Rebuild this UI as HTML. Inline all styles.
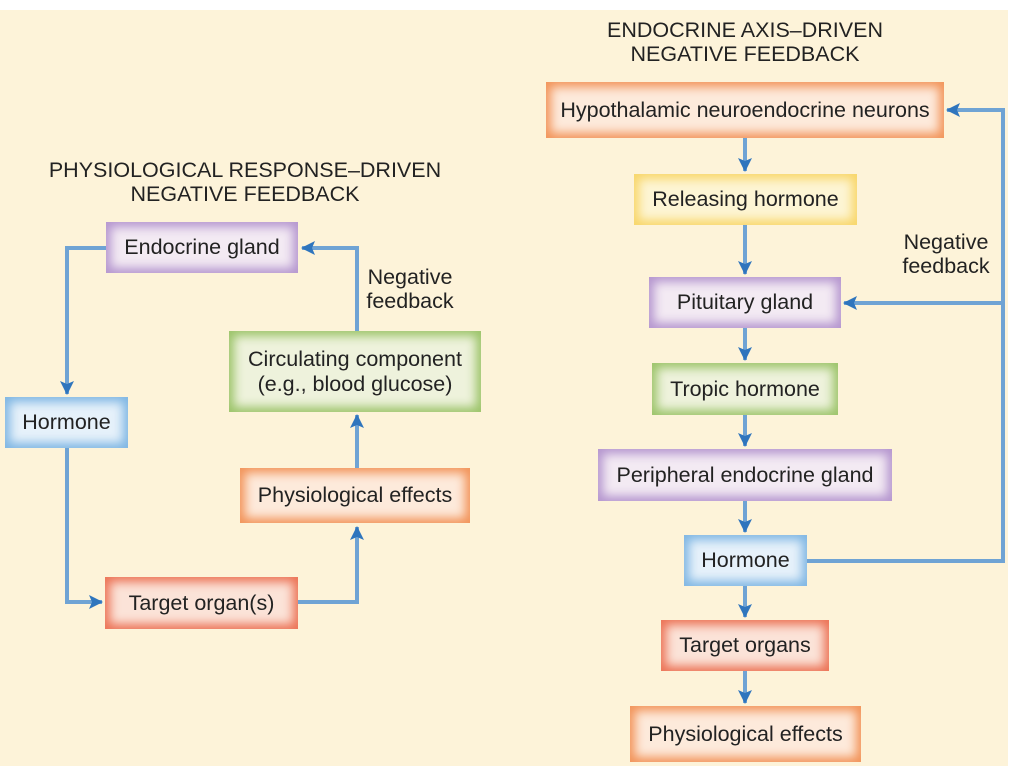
<!DOCTYPE html>
<html><head><meta charset="utf-8"><style>
body{margin:0;width:1024px;height:767px;background:#fff;position:relative;overflow:hidden;font-family:"Liberation Sans",sans-serif;color:#222}
.bg{position:absolute;left:0;top:10px;width:1008px;height:756px;background:#fdf3d9}
.b{position:absolute;display:flex;align-items:center;justify-content:center;text-align:center;font-size:21.5px;line-height:25px;box-sizing:border-box;white-space:nowrap}
.pu{background:#f3eaf3;box-shadow:inset 0 0 10px 5px #b596cf;}
.bl{background:#e6f1fa;box-shadow:inset 0 0 10px 5px #7fb6e3;}
.gr{background:#eef2dc;box-shadow:inset 0 0 10px 5px #9cc46a;}
.or{background:#fdeadb;box-shadow:inset 0 0 10px 5px #f2945a;}
.rd{background:#fbe3d8;box-shadow:inset 0 0 10px 5px #ec7356;}
.ye{background:#fdf5d4;box-shadow:inset 0 0 10px 5px #f8d66a;}
.t{position:absolute;font-size:21.5px;line-height:24px;text-align:center;white-space:nowrap}
svg{position:absolute;left:0;top:0}
</style></head><body>
<div class="bg"></div>
<svg width="1024" height="767">
<defs>
<marker id="b" markerWidth="14" markerHeight="14" refX="13" refY="7" orient="auto" markerUnits="userSpaceOnUse"><path d="M0,0 L14,7 L0,14 L3,7 z" fill="#2f75bd"/></marker></defs>
<g stroke="#6fa3d4" stroke-width="4" fill="none">
<path d="M106,248 H67 V394" marker-end="url(#b)"/>
<path d="M67,448 V602 H102" marker-end="url(#b)"/>
<path d="M298,602 H357 V527" marker-end="url(#b)"/>
<path d="M357,468 V415" marker-end="url(#b)"/>
<path d="M357,331 V248 H302" marker-end="url(#b)"/>
<path d="M807,561 H1003 V110 H947" marker-end="url(#b)"/>
<path d="M1003,303 H844" marker-end="url(#b)"/>
<path d="M745,138 V171" marker-end="url(#b)"/>
<path d="M745,225 V274" marker-end="url(#b)"/>
<path d="M745,328 V360" marker-end="url(#b)"/>
<path d="M745,415 V446" marker-end="url(#b)"/>
<path d="M745,501 V532" marker-end="url(#b)"/>
<path d="M745,586 V617" marker-end="url(#b)"/>
<path d="M745,671 V703" marker-end="url(#b)"/>
</g>
</svg>
<div class="t" style="left:20px;top:158px;width:450px">PHYSIOLOGICAL RESPONSE–DRIVEN<br>NEGATIVE FEEDBACK</div>
<div class="t" style="left:545px;top:18px;width:400px">ENDOCRINE AXIS–DRIVEN<br>NEGATIVE FEEDBACK</div>
<div class="t" style="left:355px;top:265px;width:110px">Negative<br>feedback</div>
<div class="t" style="left:891px;top:230px;width:110px">Negative<br>feedback</div>
<div class="b pu" style="left:106px;top:222px;width:192px;height:51px">Endocrine gland</div>
<div class="b bl" style="left:5px;top:397px;width:123px;height:51px">Hormone</div>
<div class="b gr" style="left:229px;top:331px;width:252px;height:81px">Circulating component<br>(e.g., blood glucose)</div>
<div class="b or" style="left:240px;top:468px;width:230px;height:55px">Physiological effects</div>
<div class="b rd" style="left:105px;top:577px;width:193px;height:52px">Target organ(s)</div>
<div class="b or" style="left:546px;top:82px;width:398px;height:56px">Hypothalamic neuroendocrine neurons</div>
<div class="b ye" style="left:634px;top:174px;width:223px;height:51px">Releasing hormone</div>
<div class="b pu" style="left:649px;top:277px;width:192px;height:51px">Pituitary gland</div>
<div class="b gr" style="left:652px;top:363px;width:186px;height:52px">Tropic hormone</div>
<div class="b pu" style="left:598px;top:449px;width:294px;height:52px">Peripheral endocrine gland</div>
<div class="b bl" style="left:684px;top:535px;width:123px;height:51px">Hormone</div>
<div class="b rd" style="left:661px;top:620px;width:168px;height:51px">Target organs</div>
<div class="b or" style="left:630px;top:706px;width:231px;height:56px">Physiological effects</div>
</body></html>
